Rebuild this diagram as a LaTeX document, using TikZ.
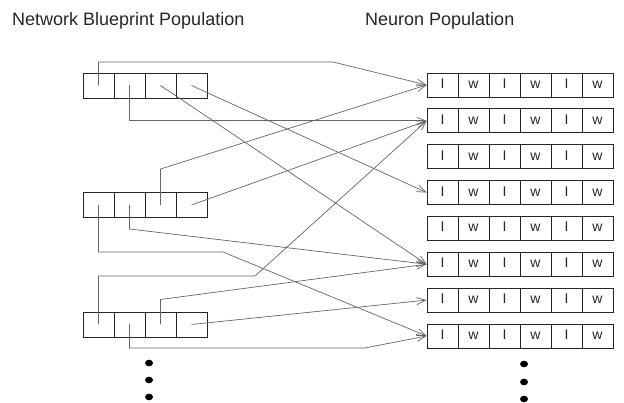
\documentclass[tikz,border=0pt]{standalone}
\usepackage{fontspec}
\setmainfont{Liberation Sans}
\usetikzlibrary{arrows.meta}

\tikzset{
	bpcell/.style={draw=black!85, line width=0.8pt, minimum width=31pt, minimum height=25pt, inner sep=0pt},
	ncell/.style={draw=black!85, line width=0.8pt, minimum width=31pt, minimum height=24pt, inner sep=0pt,
		text=black!85, text height=0.72em, text depth=0pt, font=\fontsize{14}{14}\selectfont},
	link/.style={draw=black!60, line width=0.7pt, -{Straight Barb[length=9pt,width=7pt]}},
	title/.style={anchor=base west, inner sep=0pt, text=black!85, font=\fontsize{18}{18}\selectfont}
}

\begin{document}
\begin{tikzpicture}[x=1pt,y=-1pt]
	\useasboundingbox (0,0) rectangle (624,403);

	\node[title] (bptitle) at (12,26) {Network Blueprint Population};
	\node[title] (ntitle) at (365,26) {Neuron Population};

	% blueprints
	\foreach \b/\y in {1/85.5,2/205,3/324.5}
		\foreach \c in {1,...,4}
			\node[bpcell] (b\b-\c) at ({98.5+31*(\c-1)},\y) {};

	% neurons
	\foreach \r in {1,...,8}
		\foreach \c/\t in {1/I,2/w,3/I,4/w,5/I,6/w}
			\node[ncell] (n\r-\c) at ({442.5+31*(\c-1)},{85+35.85*(\r-1)}) {\t};

	% first blueprint
	\draw[link] (b1-1.center) |- (333,62) -- (n1-1.west);
	\draw[link] (b1-2.center) |- (n2-1.west);
	\draw[link] (b1-3.center) -- (n6-1.west);
	\draw[link] (b1-4.center) -- (n4-1.west);

	% second blueprint
	\draw[link] (b2-1.center) |- (223,252) -- (n8-1.west);
	\draw[link] (b2-2.center) -- ++(0,24) -- (n6-1.west);
	\draw[link] (b2-3.center) -- ++(0,-36) -- (n1-1.west);
	\draw[link] (b2-4.center) -- (n2-1.west);

	% third blueprint
	\draw[link] (b3-1.center) |- (255,276) -- (n2-1.west);
	\draw[link] (b3-2.center) |- (365,348) -- (n8-1.west);
	\draw[link] (b3-3.center) -- ++(0,-25) -- (n6-1.west);
	\draw[link] (b3-4.center) -- (n7-1.west);

	% more of both
	\foreach \y in {363,380,397}
		\fill (149,\y) ellipse (4 and 3.3);
	\foreach \y in {364,382,399}
		\fill (524,\y) ellipse (4 and 3.3);
\end{tikzpicture}
\end{document}
